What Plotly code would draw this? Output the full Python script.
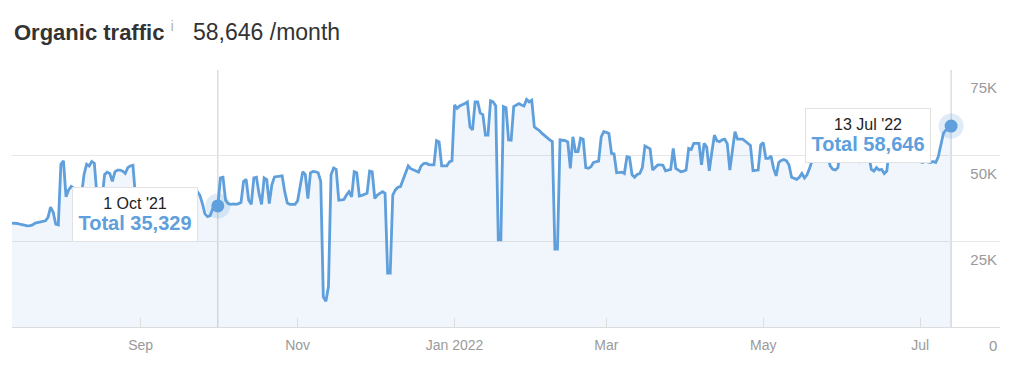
import pandas as pd
import plotly.graph_objects as go

# ---------------- data (daily organic traffic) ----------------
start_date = "2021-07-13"
traffic = [
    # Jul 13-31 2021
    30300, 30300, 30200, 30000, 29800, 29600, 29500, 29600, 29800, 30300, 30500, 30700, 30900, 31000, 32000, 35000, 33500, 30000, 29800,
    # Aug 2021
    47500, 48500, 38000, 40000, 41000, 40500, 38000, 37500, 38500, 44500, 47500, 47000, 48300, 47800, 38500, 37000, 37500, 44500, 45200, 44800,
    42500, 45300, 45800, 45800, 45500, 44800, 46500, 47000, 47200, 38000, 37500,
    # Sep 2021
    37000, 37200, 38500, 40000, 39500, 37500, 37000, 37200, 38000, 39800, 40000, 38000, 37000, 37300, 38500, 40000, 39800, 37500, 37000, 37500,
    39000, 40000, 39500, 38500, 36000, 33000, 32200, 32500, 34500, 35200,
    # Oct 2021
    35329, 43500, 43700, 37000, 36000, 35800, 35900, 35800, 36000, 36300, 42500, 43100, 37000, 35800, 43500, 43700, 39000, 35800, 43500, 43000,
    36000, 41500, 43800, 43900, 44000, 44100, 39500, 36200, 35800, 35800, 35800,
    # Nov 2021
    36800, 41000, 45300, 44500, 37500, 45000, 45400, 45300, 45000, 42500, 8800, 7500, 11800, 44400, 46400, 46000, 37000, 37100, 37200, 38500,
    39500, 38000, 45300, 45000, 38200, 38400, 38700, 39000, 45500, 45300,
    # Dec 2021
    37500, 38500, 39000, 39500, 39000, 15700, 15700, 38500, 40000, 40800, 41000, 43000, 45500, 47000, 46200, 45900, 45500, 45200, 47000, 47700,
    47800, 47400, 47300, 47300, 54400, 54000, 47000, 46900, 47000, 48200, 48500,
    # Jan 2022
    64800, 63800, 64500, 64800, 65200, 65700, 58400, 57500, 65700, 65700, 62400, 62000, 56000, 56000, 66000, 65700, 64500, 25400, 25400, 64300,
    64000, 54600, 54500, 64300, 64800, 65200, 64800, 64500, 66400, 65700, 66200,
    # Feb 2022
    58400, 57800, 57300, 56500, 55800, 55200, 54600, 54100, 22700, 22700, 54600, 54500, 54400, 54000, 46300, 55500, 51200, 51200, 55100, 54800,
    46500, 46300, 46800, 48000, 48300, 48400, 55500, 57000,
    # Mar 2022
    56800, 56500, 50700, 50500, 45000, 45100, 45200, 44800, 49700, 49500, 44400, 43700, 44500, 44800, 46500, 52800, 52500, 52000, 45800, 46500,
    47300, 47300, 47200, 45600, 45800, 46000, 52100, 46300, 45800, 45300, 45500,
    # Apr 2022
    45800, 52100, 51800, 53600, 53600, 53600, 47300, 53600, 52500, 45600, 51000, 56000, 54300, 54100, 54600, 54800, 53500, 45800, 51500, 57000,
    54800, 54800, 54800, 54200, 53600, 53000, 45600, 45700, 45800, 53100,
    # May 2022
    53800, 49200, 49200, 49900, 46300, 44100, 48000, 48600, 48900, 48500, 47300, 43700, 43300, 43100, 43700, 44800, 43500, 44400, 46300, 48700,
    52000, 53000, 51000, 52500, 53000, 50000, 47000, 46000, 45800, 46500, 52000,
    # Jun 2022
    53000, 52000, 51500, 53000, 52000, 50000, 48000, 49000, 53000, 52000, 50000, 46000, 45500, 46500, 45800, 46000, 44800, 45500, 52000, 53000,
    52500, 51000, 53000, 52000, 51000, 52500, 53000, 51500, 50000, 49000,
    # Jul 1-13 2022
    48200, 48000, 48500, 48200, 48000, 48300, 48000, 49700, 53600, 56500, 57500, 58200, 58646,
]
assert len(traffic) == 366

x_tick_vals = ["2021-09-01", "2021-11-01", "2022-01-01", "2022-03-01", "2022-05-01", "2022-07-01"]
x_tick_text = ["Sep", "Nov", "Jan 2022", "Mar", "May", "Jul"]
y_tick_vals = [0, 25000, 50000, 75000]
y_tick_text = ["0", "25K", "50K", "75K"]
highlight_dates = ["2021-10-01", "2022-07-13"]
highlight_labels = ["1 Oct '21", "13 Jul '22"]
x_range = ["2021-07-13", "2022-08-01"]
title_total = "58,646"

# ---------------- styling ----------------
LINE = "#5e9fdc"
FILL = "rgba(94,159,220,0.09)"
GRID = "#e7e7e7"
AXIS_TEXT = "#9a9a9a"
FONT = "Liberation Sans, Arial, Helvetica, sans-serif"

dates = pd.date_range(start_date, periods=len(traffic), freq="D")
series = pd.Series(traffic, index=dates)
hl_x = pd.to_datetime(highlight_dates)
hl_y = [series[d] for d in hl_x]

fig = go.Figure()
fig.add_trace(go.Scatter(
    x=dates, y=traffic, mode="lines",
    line=dict(color=LINE, width=2.8),
    fill="tozeroy", fillcolor=FILL, hoverinfo="skip",
))
fig.add_trace(go.Scatter(
    x=hl_x, y=hl_y, mode="markers",
    marker=dict(size=25, color="rgba(94,159,220,0.2)"), hoverinfo="skip",
))
fig.add_trace(go.Scatter(
    x=hl_x, y=hl_y, mode="markers",
    marker=dict(size=13, color=LINE), hoverinfo="skip",
))

for d in hl_x:
    fig.add_shape(type="line", xref="x", yref="paper", x0=d, x1=d, y0=0, y1=1,
                  line=dict(color="#c9ccd0", width=1), layer="below")

for d, v, lab in zip(hl_x, hl_y, highlight_labels):
    fig.add_annotation(
        x=d, y=v, xref="x", yref="y", showarrow=False,
        xanchor="right", yanchor="middle", xshift=-20, yshift=-9,
        text=(f"<span style='color:#222222'>{lab}</span><br>"
              f"<b><span style='font-size:20px'>Total {v:,}</span></b>"),
        font=dict(family=FONT, size=16, color=LINE),
        bgcolor="white", bordercolor="#e2e2e2", borderwidth=1, borderpad=3,
        width=118, height=47,
        align="center",
    )

fig.add_annotation(
    x=0, y=1, xref="paper", yref="paper", xanchor="left", yanchor="middle",
    yshift=39, showarrow=False, align="left",
    text=(f"<b>Organic traffic</b>&nbsp;<sup><span style='color:#b5b5b5;font-size:15px'>i</span></sup>"
          f"<span style='font-size:23px'>&nbsp;&nbsp;&nbsp;{title_total} /month</span>"),
    font=dict(family=FONT, size=22, color="#333333"),
)

# the bottom "0" label of the value axis sits below the axis line, like the others
fig.add_annotation(
    x=1, y=y_tick_vals[0], xref="paper", yref="y", xanchor="right", yanchor="middle",
    yshift=-18, xshift=-1, showarrow=False, text=y_tick_text[0],
    font=dict(family=FONT, size=15, color=AXIS_TEXT),
)

# The page body adds an 8px offset; the figure is sized so the plot area lands
# where the reference has it.
fig.update_layout(
    width=1016, height=372,
    margin=dict(l=4, r=24, t=62, b=53),
    paper_bgcolor="white", plot_bgcolor="white",
    showlegend=False,
    font=dict(family=FONT),
    xaxis=dict(
        type="date", range=x_range,
        tickvals=x_tick_vals, ticktext=x_tick_text,
        showgrid=False, zeroline=False,
        showline=True, linecolor="#dddddd", linewidth=1,
        ticks="inside", ticklen=9, tickcolor="#dddddd", tickwidth=1,
        tickfont=dict(size=14, color=AXIS_TEXT),
        ticklabelstandoff=5,
    ),
    yaxis=dict(
        range=[0, 75000], side="right",
        tickvals=y_tick_vals[1:], ticktext=y_tick_text[1:],
        showgrid=True, gridcolor=GRID, gridwidth=1, zeroline=False,
        ticks="", ticklabelposition="inside",
        ticklabelshift=18,
        tickfont=dict(size=15, color=AXIS_TEXT),
    ),
)

fig.write_html("out.html")
